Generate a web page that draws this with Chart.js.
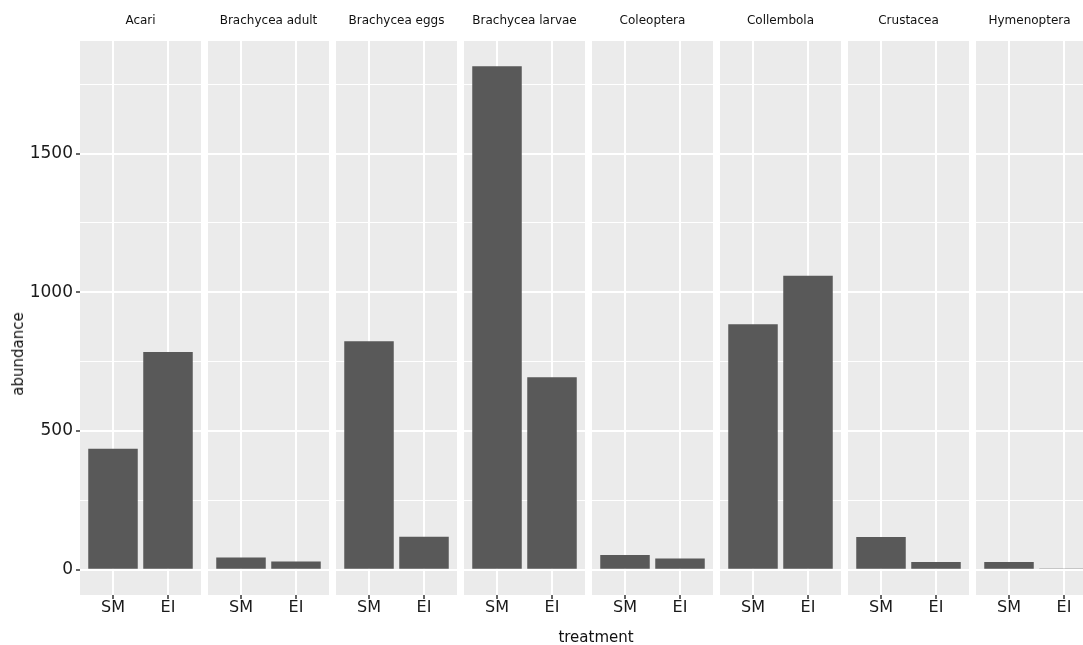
<!DOCTYPE html>
<html>
<head>
<meta charset="utf-8">
<title>abundance by treatment</title>
<script src="https://cdn.jsdelivr.net/npm/chart.js@4.4.1/dist/chart.umd.min.js"></script>
<style>
  body { margin: 0; width: 1083px; height: 645px; overflow: hidden; position: relative; background: #fff; font-family: "DejaVu Sans", sans-serif; }
  canvas { position: absolute; top: 0; }
  #xtitle { position: absolute; left: 0; width: 1192px; top: 628px; line-height: 18px; text-align: center; font-size: 15px; color: #111; }
  #ytitle { position: absolute; left: 18px; top: 354px; font-size: 15px; color: #111; white-space: nowrap; transform: translate(-50%, -50%) rotate(-90deg); }
</style>
</head>
<body>
<div id="wrap"></div>
<div id="xtitle">treatment</div>
<div id="ytitle">abundance</div>
<script>
// taxa shown one per facet, left to right
const groups = ['Acari', 'Brachycea adult', 'Brachycea eggs', 'Brachycea larvae',
  'Coleoptera', 'Collembola', 'Crustacea', 'Hymenoptera'];
const treatments = ['SM', 'EI'];
const smValues = [436, 44, 824, 1815, 53, 885, 118, 28];
const eiValues = [785, 30, 119, 694, 41, 1060, 28, 3];
const yMajor = [0, 500, 1000, 1500];
const yMinor = [250, 750, 1250, 1750];

const FONT = 'DejaVu Sans';
const PANEL_X0 = 80, PANEL_W = 121, PANEL_STEP = 128;
const wrap = document.getElementById('wrap');

// grey panel background behind the grid
const panelBg = {
  id: 'panelBg',
  beforeDraw(chart) {
    const { ctx, chartArea: a } = chart;
    ctx.save();
    ctx.fillStyle = '#EBEBEB';
    ctx.fillRect(a.left, a.top, a.width, a.height);
    ctx.restore();
  }
};

// facet strip label above each panel
const strip = {
  id: 'strip',
  afterDraw(chart, args, opts) {
    const { ctx, chartArea: a } = chart;
    const left = parseFloat(chart.canvas.style.left);
    const right = Math.min(a.right, window.innerWidth - left);
    ctx.save();
    ctx.font = '12px "' + FONT + '"';
    ctx.fillStyle = '#111';
    ctx.textAlign = 'center';
    ctx.textBaseline = 'middle';
    ctx.fillText(opts.text, (a.left + right) / 2, 21);
    ctx.restore();
  }
};

function drawPanel(i) {
  const first = i === 0;
  const left = first ? 0 : PANEL_X0 + i * PANEL_STEP;
  const canvas = document.createElement('canvas');
  canvas.width = first ? PANEL_X0 + PANEL_W : PANEL_W;
  canvas.height = 645;
  canvas.style.left = left + 'px';
  wrap.appendChild(canvas);

  const vals = [smValues[i], eiValues[i]];
  const isMajor = ctx => ctx.tick && yMajor.includes(ctx.tick.value);

  new Chart(canvas, {
    type: 'bar',
    data: {
      datasets: [{
        data: treatments.map((t, k) => ({ x: k + 1, y: vals[k] })),
        backgroundColor: '#595959',
        borderWidth: 0,
        categoryPercentage: 0.9,
        barPercentage: 1
      }]
    },
    options: {
      responsive: false,
      animation: false,
      events: [],
      layout: { padding: { top: 41, left: 0, right: 0, bottom: 0 } },
      plugins: {
        legend: { display: false },
        tooltip: { enabled: false },
        strip: { text: groups[i] }
      },
      scales: {
        x: {
          type: 'linear',
          min: 0.4,
          max: 2.6,
          offset: false,
          afterBuildTicks: s => { s.ticks = treatments.map((t, k) => ({ value: k + 1 })); },
          afterFit: s => { s.height = 50; },
          grid: { offset: false, color: '#fff', lineWidth: 2, tickLength: 4, tickWidth: 1.5, tickColor: '#333' },
          border: { display: false },
          ticks: {
            callback: v => treatments[v - 1],
            font: { family: FONT, size: 16 },
            color: '#1a1a1a',
            padding: -1,
            maxRotation: 0,
            autoSkip: false
          }
        },
        y: {
          min: -90.75,
          max: 1905.75,
          afterBuildTicks: s => {
            s.ticks = yMajor.concat(yMinor).sort((a, b) => a - b).map(v => ({ value: v }));
          },
          afterFit: s => { s.width = first ? PANEL_X0 : 0; },
          grid: {
            color: '#fff',
            lineWidth: ctx => isMajor(ctx) ? 2 : 1,
            drawTicks: first,
            tickLength: 4,
            tickWidth: 1.5,
            tickColor: ctx => isMajor(ctx) ? '#333' : 'rgba(0,0,0,0)'
          },
          border: { display: false },
          ticks: {
            display: first,
            callback: v => yMajor.includes(v) ? String(v) : '',
            font: { family: FONT, size: 17 },
            color: '#1a1a1a',
            padding: 3,
            autoSkip: false
          }
        }
      }
    },
    plugins: [panelBg, strip]
  });
}

groups.forEach((g, i) => drawPanel(i));
</script>
</body>
</html>
